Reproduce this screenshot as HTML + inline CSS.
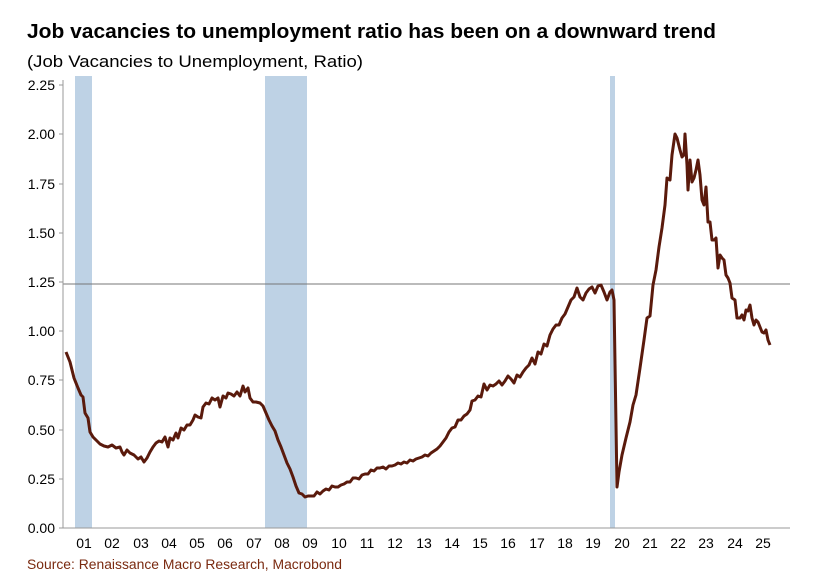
<!DOCTYPE html>
<html><head><meta charset="utf-8"><style>
body{margin:0;background:#fff;width:813px;height:578px;overflow:hidden;font-family:"Liberation Sans",sans-serif}
</style></head><body>
<svg width="813" height="578" xmlns="http://www.w3.org/2000/svg" font-family="Liberation Sans, sans-serif">
<text x="27" y="38" font-size="20.5" font-weight="bold" fill="#000" textLength="689" lengthAdjust="spacingAndGlyphs">Job vacancies to unemployment ratio has been on a downward trend</text>
<text x="27" y="67" font-size="17" fill="#000" textLength="336" lengthAdjust="spacingAndGlyphs">(Job Vacancies to Unemployment, Ratio)</text>
<rect x="75" y="76" width="17" height="452" fill="#bed2e5"/>
<rect x="265" y="76" width="42" height="452" fill="#bed2e5"/>
<rect x="610" y="76" width="5" height="452" fill="#bed2e5"/>
<line x1="63" y1="284" x2="790" y2="284" stroke="#777" stroke-width="1"/>
<line x1="63" y1="528" x2="790" y2="528" stroke="#999" stroke-width="1"/>
<line x1="63" y1="80" x2="63" y2="528" stroke="#999" stroke-width="1"/>
<g stroke="#999"><line x1="59" y1="528" x2="63" y2="528"/><line x1="59" y1="479" x2="63" y2="479"/><line x1="59" y1="430" x2="63" y2="430"/><line x1="59" y1="380" x2="63" y2="380"/><line x1="59" y1="331" x2="63" y2="331"/><line x1="59" y1="282" x2="63" y2="282"/><line x1="59" y1="233" x2="63" y2="233"/><line x1="59" y1="184" x2="63" y2="184"/><line x1="59" y1="134" x2="63" y2="134"/><line x1="59" y1="85" x2="63" y2="85"/></g>
<g font-size="14" fill="#000" text-anchor="end">
<text x="55" y="533">0.00</text><text x="55" y="484">0.25</text><text x="55" y="435">0.50</text><text x="55" y="385">0.75</text><text x="55" y="336">1.00</text><text x="55" y="287">1.25</text><text x="55" y="238">1.50</text><text x="55" y="189">1.75</text><text x="55" y="139">2.00</text><text x="55" y="90">2.25</text>
</g>
<g font-size="14" fill="#000" text-anchor="middle">
<text x="84" y="548">01</text><text x="112" y="548">02</text><text x="141" y="548">03</text><text x="169" y="548">04</text><text x="197" y="548">05</text><text x="225" y="548">06</text><text x="254" y="548">07</text><text x="282" y="548">08</text><text x="310" y="548">09</text><text x="339" y="548">10</text><text x="367" y="548">11</text><text x="395" y="548">12</text><text x="424" y="548">13</text><text x="452" y="548">14</text><text x="480" y="548">15</text><text x="508" y="548">16</text><text x="537" y="548">17</text><text x="565" y="548">18</text><text x="593" y="548">19</text><text x="622" y="548">20</text><text x="650" y="548">21</text><text x="678" y="548">22</text><text x="706" y="548">23</text><text x="735" y="548">24</text><text x="763" y="548">25</text>
</g>
<text x="27" y="569" font-size="13.5" fill="#7a2a10" textLength="315" lengthAdjust="spacingAndGlyphs">Source: Renaissance Macro Research, Macrobond</text>
<polyline fill="none" stroke="#5a1a0c" stroke-width="3" stroke-linejoin="round" points="66,352 70,362 74,378 78,388 81,395 83,397 85,413 88,418 90,432 93,437 96,440 100,444 104,446 108,447 112,445 116,448 120,447 122,452 124,455 127,450 130,453 134,455 138,459 141,457 144,462 147,458 150,452 153,447 156,443 159,441 162,442 165,437 168,447 170,438 173,440 176,433 178,438 181,428 184,430 187,425 190,425 193,420 195,415 198,417 201,418 203,407 206,403 209,404 212,398 215,400 218,398 220,407 223,396 226,398 228,393 231,394 234,396 237,392 240,396 243,386 245,392 248,388 250,398 253,402 256,402 260,403 263,406 266,413 269,420 272,426 275,431 278,440 281,447 284,455 287,463 290,469 293,477 296,486 299,493 302,494 305,497 308,496 311,496 314,496 317,492 320,494 323,491 326,489 329,490 332,486 335,487 338,487 341,485 344,484 347,482 350,482 353,478 356,478 359,479 362,475 365,474 368,474 371,470 374,471 377,468 380,468 383,467 386,469 389,466 392,466 395,465 398,463 401,464 404,462 407,463 410,460 413,461 416,459 419,458 422,457 425,455 428,456 431,453 434,451 437,449 440,446 443,442 446,438 449,432 452,428 455,427 458,420 461,420 464,416 467,414 470,410 472,401 475,400 478,396 481,397 484,384 487,390 490,385 493,386 496,384 499,381 502,385 505,381 508,376 511,379 514,383 517,375 520,377 523,372 526,368 529,365 532,358 535,364 538,352 541,354 544,344 547,346 550,335 553,329 556,325 559,325 562,318 565,314 568,307 571,300 574,297 577,288 580,297 583,300 586,293 589,289 592,287 595,293 598,286 601,285 604,292 607,300 610,292 612,290 614,300 617,487 619,472 622,455 626,438 630,422 633,405 636,395 640,368 644,340 647,318 650,316 653,285 656,270 659,247 662,228 665,205 667,178 670,180 672,155 675,134 677,138 680,150 682,157 684,155 685,134 687,165 688,190 690,160 692,182 694,178 696,170 698,160 700,175 702,200 704,205 706,187 708,222 710,222 712,240 714,240 716,238 718,268 720,255 722,258 724,260 726,275 728,278 730,283 732,298 735,300 737,318 740,318 742,315 744,320 746,310 748,311 750,305 752,318 754,325 756,320 758,322 760,327 762,332 764,333 766,330 768,340 770,345"/>
</svg>
</body></html>
